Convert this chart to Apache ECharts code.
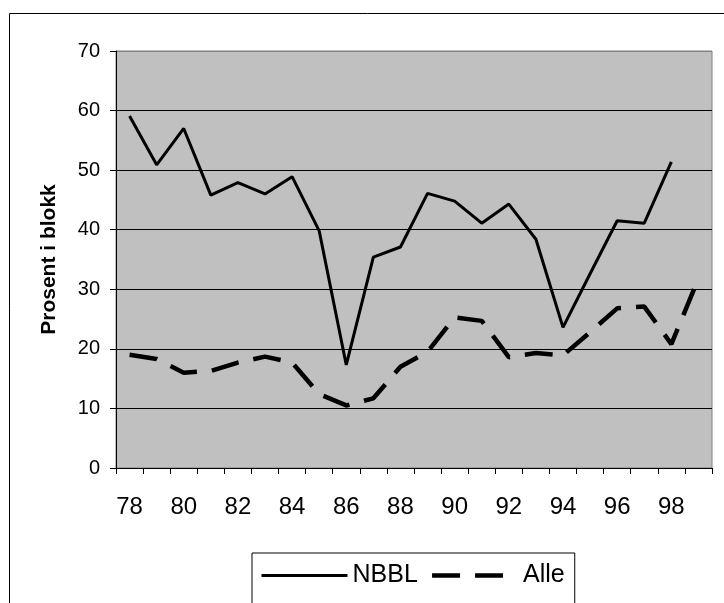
<!DOCTYPE html>
<html>
<head>
<meta charset="utf-8">
<script src="https://cdn.jsdelivr.net/npm/echarts@6/dist/echarts.min.js"></script>
<style>
html,body{margin:0;padding:0;background:#fff;}
#chart{width:724px;height:603px;}
</style>
</head>
<body>
<div id="chart"></div>
<script>
var years = ['78','79','80','81','82','83','84','85','86','87','88','89','90','91','92','93','94','95','96','97','98','99'];
var nbbl = [59.1, 50.9, 57.0, 45.8, 47.9, 46.0, 48.9, 39.8, 17.3, 35.4, 37.1, 46.1, 44.8, 41.1, 44.3, 38.4, 23.6, 32.6, 41.5, 41.1, 51.4, null];
var alle = [19.0, 18.3, 16.0, 16.3, 17.7, 18.7, 17.7, 12.4, 10.5, 11.7, 17.0, 19.5, 25.3, 24.7, 18.6, 19.3, 18.9, 22.8, 26.8, 27.1, 20.8, 31.8];
var yTicks = [0, 10, 20, 30, 40, 50, 60, 70];
var seriesNames = ['NBBL', 'Alle'];

var font = 'Liberation Sans, Arial, sans-serif';
var chart = echarts.init(document.getElementById('chart'), null, {renderer: 'canvas'});
chart.setOption({
  animation: false,
  backgroundColor: '#ffffff',
  graphic: [{
    type: 'rect', left: 7, top: 11, z: -10,
    shape: {x: 0, y: 0, width: 800, height: 700},
    style: {fill: 'none', stroke: '#000', lineWidth: 1}
  }],
  grid: {
    left: 116, top: 51, right: 12, bottom: 135,
    show: true, backgroundColor: '#c0c0c0', borderColor: '#808080', borderWidth: 1
  },
  legend: {
    left: 252, top: 553,
    data: [
      {name: seriesNames[0], lineStyle: {width: 3}},
      {name: seriesNames[1], lineStyle: {width: 4.5}}
    ],
    orient: 'horizontal',
    itemWidth: 86, itemHeight: 8, itemGap: 12,
    borderColor: '#000', borderWidth: 1,
    padding: [10, 10, 40, 8],
    itemStyle: {opacity: 0},
    textStyle: {fontFamily: font, fontSize: 25, color: '#000'},
    backgroundColor: '#fff'
  },
  xAxis: {
    type: 'category',
    data: years,
    boundaryGap: true,
    axisLine: {lineStyle: {color: '#000', width: 1}},
    axisTick: {show: true, interval: 0, length: 6, lineStyle: {color: '#000'}},
    axisLabel: {interval: 1, fontFamily: font, fontSize: 24, color: '#000', margin: 27},
    splitLine: {show: false}
  },
  yAxis: {
    type: 'value',
    min: yTicks[0], max: yTicks[yTicks.length - 1], interval: 10,
    name: 'Prosent i blokk',
    nameLocation: 'middle',
    nameGap: 56,
    nameTextStyle: {fontFamily: font, fontSize: 21, fontWeight: 'bold', color: '#000'},
    axisLine: {show: true, lineStyle: {color: '#000', width: 1}},
    axisTick: {show: true, length: 6, lineStyle: {color: '#000'}},
    axisLabel: {fontFamily: font, fontSize: 20, color: '#000', margin: 16},
    splitLine: {show: true, lineStyle: {color: ['#000','#000','#000','#000','#000','#000','#000','#808080'], width: 1}}
  },
  series: [{
    name: seriesNames[0],
    type: 'line',
    data: nbbl,
    symbol: 'none',
    connectNulls: false,
    lineStyle: {color: '#000', width: 3, type: 'solid'},
    itemStyle: {color: '#000'}
  }, {
    name: seriesNames[1],
    type: 'line',
    data: alle,
    symbol: 'none',
    lineStyle: {color: '#000', width: 4.5, type: [28, 15]},
    itemStyle: {color: '#000'}
  }]
});
</script>
</body>
</html>
